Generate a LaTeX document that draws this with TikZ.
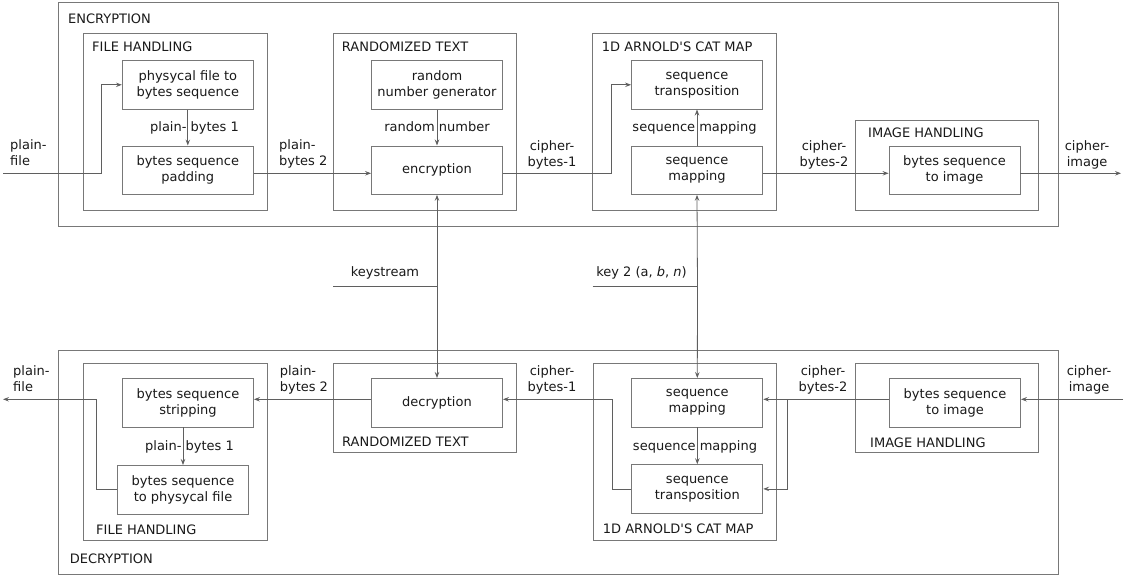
\documentclass[tikz,border=0pt]{standalone}
\usepackage{fontspec}
\setmainfont{DejaVu Sans}
\usetikzlibrary{arrows.meta}
\definecolor{linec}{RGB}{95,95,95}
\definecolor{framec}{RGB}{120,120,120}
\definecolor{txtc}{RGB}{25,25,25}
\begin{document}
\begin{tikzpicture}[x=1pt,y=-1pt,
  every node/.style={font=\fontsize{13}{16}\selectfont, text=txtc},
  ln/.style={draw=linec, line width=0.8pt},
  arr/.style={ln, -{Stealth[length=6pt,width=4.5pt,inset=2.2pt]}},
  frame/.style={draw=framec, line width=0.9pt},
  blk/.style={draw=framec, line width=0.9pt, minimum width=131pt, minimum height=48.5pt, inner sep=0pt, align=center},
  lbl/.style={inner sep=0pt, anchor=base west},
  ilbl/.style={inner sep=0pt, anchor=base},
  two/.style={inner sep=0pt, align=center},
  twol/.style={inner sep=0pt, align=left, anchor=west}]
\useasboundingbox (0,0) rectangle (1128,578);

% ---------- containers ----------
\draw[frame] (58.3,2.7) rectangle (1058,226.7);
\draw[frame] (58.3,350.7) rectangle (1058,574.3);
\draw[frame] (83.3,33.3) rectangle (267.3,210);
\draw[frame] (333.3,33.3) rectangle (516.7,210);
\draw[frame] (592.7,33.3) rectangle (776,210);
\draw[frame] (855.3,120) rectangle (1038.5,210);
\draw[frame] (83.3,363.3) rectangle (267,540.7);
\draw[frame] (333.3,363.3) rectangle (516.7,452.7);
\draw[frame] (593,363.3) rectangle (776,540.7);
\draw[frame] (855.5,363.3) rectangle (1038.8,452.7);

% ---------- container labels ----------
\node[lbl] (tENC) at (68,24) {ENCRYPTION};
\node[lbl] (tFH) at (92,52) {FILE HANDLING};
\node[lbl] (tRT) at (341.7,52) {RANDOMIZED TEXT};
\node[lbl] (tAC) at (601.7,52) {1D ARNOLD\textquotesingle S CAT MAP};
\node[lbl] (tIH) at (868,137) {IMAGE HANDLING};
\node[lbl] (bFH) at (96,534) {FILE HANDLING};
\node[lbl] (bDEC) at (69.6,563) {DECRYPTION};
\node[lbl] (bRT) at (342,446) {RANDOMIZED TEXT};
\node[lbl] (bAC) at (602.7,533) {1D ARNOLD\textquotesingle S CAT MAP};
\node[lbl] (bIH) at (870,447) {IMAGE HANDLING};

% ---------- blocks (encryption) ----------
\node[blk] (phys) at (187.8,84.8) {physycal file to\\bytes sequence};
\node[blk] (pad) at (187.8,170.2) {bytes sequence\\padding};
\node[blk] (rng) at (437,84.8) {random\\number generator};
\node[blk] (enc) at (437,170.2) {encryption};
\node[blk] (trans) at (697,84.8) {sequence\\transposition};
\node[blk] (map) at (697,170.2) {sequence\\mapping};
\node[blk] (img) at (954.5,170.2) {bytes sequence\\to image};

% ---------- blocks (decryption) ----------
\node[blk] (strip) at (188,402.7) {bytes sequence\\stripping};
\node[blk] (tophys) at (183,489.7) {bytes sequence\\to physycal file};
\node[blk] (dec) at (437,402.7) {decryption};
\node[blk] (bmap) at (697.3,402.7) {sequence\\mapping};
\node[blk] (btrans) at (697.3,488.9) {sequence\\transposition};
\node[blk] (bimg) at (955,402.7) {bytes sequence\\to image};

% ---------- connectors (encryption) ----------
\coordinate (pfin) at (3,173.3);
\draw[arr] (pfin) -- (101.7,173.3) |- (phys.west);
\draw[arr] (phys.south) -- (pad.north);
\draw[arr] (pad.east |- pfin) -- (enc.west |- pfin);
\draw[arr] (rng.south) -- (enc.north);
\draw[arr] (enc.east |- pfin) -- (611.7,173.3) |- (trans.west);
\draw[arr] (map.north) -- (trans.south);
\draw[arr] (map.east |- pfin) -- (img.west |- pfin);
\coordinate (ciout) at (1121,173.3);
\draw[arr] (img.east |- pfin) -- (ciout);

% ---------- keys ----------
\coordinate (ks) at (437,286.7);
\coordinate (ksl) at (333,286.7);
\draw[arr] (ks) -- (enc.south);
\draw[arr] (ks) -- (dec.north);
\draw[ln] (ksl) -- (ks);
\node[ilbl] (kst) at (385,276) {keystream};
\coordinate (k2) at (697.5,286.7);
\coordinate (k2l) at (592.7,286.7);
\draw[arr] (k2) -- (map.south);
\draw[arr] (k2) -- (bmap.north);
\draw[ln] (k2l) -- (k2);
\node[ilbl] (k2t) at (641.5,276) {key 2 (a, \textit{b}, \textit{n})};

% ---------- connectors (decryption) ----------
\coordinate (ciin) at (1123,399.3);
\draw[arr] (ciin) -- (bimg.east |- ciin);
\draw[arr] (bimg.west |- ciin) -- (bmap.east |- ciin);
\coordinate (br) at (787.7,399.3);
\draw[arr] (br) |- (btrans.east);
\draw[arr] (btrans.west) -- (612.7,488.9) |- (dec.east |- ciin);
\draw[arr] (dec.west |- ciin) -- (strip.east |- ciin);
\draw[arr] (strip.south -| tophys.north) -- (tophys.north);
\coordinate (pfout) at (3,399.3);
\draw[arr] (tophys.west) -- (96.7,489.7) |- (pfout);
\draw[arr] (bmap.south) -- (btrans.north);

% ---------- connector labels (encryption) ----------
\node[twol] (l1) at (10,153) {plain-\\file};
\node[ilbl] (l2) at (194.5,131.5) {plain- bytes 1};
\node[twol] (l3) at (279,154) {plain-\\bytes 2};
\node[ilbl] (l4) at (437,131.5) {random number};
\node[two] (l5) at (552,154.5) {cipher-\\bytes-1};
\node[ilbl] (l6) at (694.5,131.5) {sequence mapping};
\node[two] (l7) at (824,154.5) {cipher-\\bytes-2};
\node[two] (l8) at (1087,154.5) {cipher-\\image};

% ---------- connector labels (decryption) ----------
\node[twol] (m1) at (13,378.5) {plain-\\file};
\node[ilbl] (m2) at (189.5,450) {plain- bytes 1};
\node[twol] (m3) at (279.6,379.5) {plain-\\bytes 2};
\node[two] (m4) at (552,379.5) {cipher-\\bytes-1};
\node[ilbl] (m5) at (695,450) {sequence mapping};
\node[two] (m6) at (823,379.5) {cipher-\\bytes-2};
\node[two] (m7) at (1089,379.5) {cipher-\\image};
\end{tikzpicture}
\end{document}
